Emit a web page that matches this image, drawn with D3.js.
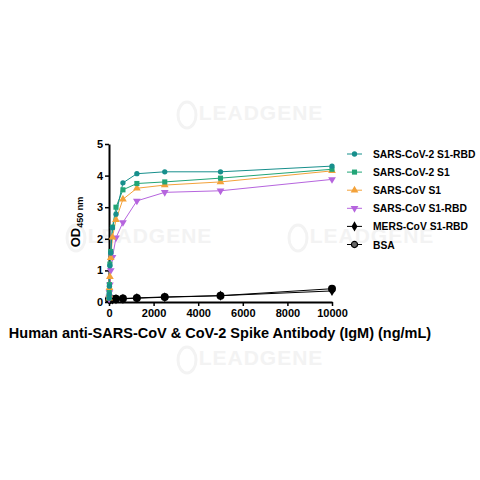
<!DOCTYPE html>
<html>
<head>
<meta charset="utf-8">
<script src="https://cdn.jsdelivr.net/npm/d3@7"></script>
<style>
    body { margin: 0; background: #fff; }
    text { font-family: "Liberation Sans", Arial, sans-serif; font-weight: bold; }
</style>
</head>
<body>
<svg id="chart" width="480" height="480"></svg>
<script>
// Antibody concentrations (ng/mL), two-fold dilutions
const concentrations = [10000, 5000, 2500, 1250, 625, 312.5, 156.25, 78.13, 39.06, 19.53, 9.77, 4.88];

// OD450 readings per antigen
const sars2Rbd = [4.30, 4.12, 4.12, 4.06, 3.77, 2.78, 2.35, 1.55, 1.15, 0.50, 0.25, 0.12];
const sars2S1 = [4.20, 3.92, 3.80, 3.75, 3.55, 3.00, 2.37, 1.60, 1.20, 0.55, 0.30, 0.14];
const sarsS1 = [4.15, 3.80, 3.70, 3.60, 3.25, 2.60, 2.05, 1.40, 0.80, 0.45, 0.22, 0.12];
const sarsRbd = [3.88, 3.52, 3.47, 3.20, 2.52, 2.03, 1.42, 1.00, 0.55, 0.30, 0.16, 0.10];
const mersRbd = [0.35, 0.20, 0.15, 0.12, 0.10, 0.09, 0.08, 0.08, 0.08, 0.08, 0.08, 0.08];
const bsa = [0.42, 0.20, 0.16, 0.13, 0.11, 0.10, 0.09, 0.09, 0.09, 0.09, 0.09, 0.09];

const seriesNames = ["SARS-CoV-2 S1-RBD", "SARS-CoV-2 S1", "SARS-CoV S1", "SARS-CoV S1-RBD", "MERS-CoV S1-RBD", "BSA"];
const xTicks = [0, 2000, 4000, 6000, 8000, 10000];
const yTicks = [0, 1, 2, 3, 4, 5];

const series = [
    { name: seriesNames[0], values: sars2Rbd, color: "#178f8c", symbol: d3.symbolCircle, size: 22, fill: "#178f8c" },
    { name: seriesNames[1], values: sars2S1, color: "#22a577", symbol: d3.symbolSquare, size: 26, fill: "#22a577" },
    { name: seriesNames[2], values: sarsS1, color: "#f3a23a", symbol: d3.symbolTriangle, size: 26, fill: "#f3a23a" },
    { name: seriesNames[3], values: sarsRbd, color: "#b665de", symbol: d3.symbolTriangle, size: 26, fill: "#b665de", flip: true },
    { name: seriesNames[4], values: mersRbd, color: "#000", symbol: d3.symbolDiamond, size: 30, fill: "#000" },
    { name: seriesNames[5], values: bsa, color: "#000", symbol: d3.symbolCircle, size: 50, fill: "#000" }
];

const svg = d3.select("#chart");

// Faint watermarks behind the plot (only the ones fully in frame)
const marks = [[261, 113], [150, 236], [372, 236], [261, 358]];
const wm = svg.append("g").attr("class", "watermark");
marks.forEach(([cx, cy]) => {
    wm.append("text")
        .attr("x", cx)
        .attr("y", cy + 7)
        .attr("text-anchor", "middle")
        .attr("font-size", 21)
        .attr("letter-spacing", 1)
        .attr("fill", "#f3f3f3")
        .text("LEADGENE");
    wm.append("ellipse")
        .attr("cx", cx - 74)
        .attr("cy", cy + 2)
        .attr("rx", 9)
        .attr("ry", 13)
        .attr("fill", "none")
        .attr("stroke", "#f3f3f3")
        .attr("stroke-width", 3);
});

const margin = { top: 144, left: 109 };
const innerWidth = 223;
const innerHeight = 158;

const xScale = d3.scaleLinear().domain([0, 10000]).range([0, innerWidth]);
const yScale = d3.scaleLinear().domain([0, 5]).range([innerHeight, 0]);

const innerChart = svg.append("g")
    .attr("transform", `translate(${margin.left},${margin.top})`);

// Axes
const bottomAxis = d3.axisBottom(xScale)
    .tickValues(xTicks)
    .tickFormat(d3.format("d"))
    .tickSize(4).tickSizeOuter(0).tickPadding(3);
const xAxisG = innerChart.append("g")
    .attr("transform", `translate(0, ${innerHeight})`)
    .call(bottomAxis);

const leftAxis = d3.axisLeft(yScale)
    .tickValues(yTicks)
    .tickFormat(d3.format("d"))
    .tickSize(4).tickSizeOuter(0).tickPadding(2);
const yAxisG = innerChart.append("g").call(leftAxis);

[xAxisG, yAxisG].forEach(g => {
    g.select(".domain").attr("stroke", "#000").attr("stroke-width", 2);
    g.selectAll(".tick line").attr("stroke", "#000").attr("stroke-width", 1.5);
    g.selectAll(".tick text")
        .attr("font-family", "Liberation Sans, Arial, sans-serif")
        .attr("font-weight", "bold")
        .attr("font-size", 11)
        .attr("fill", "#000");
});

// Lines and markers
const line = d3.line()
    .x((d, i) => xScale(concentrations[i]))
    .y(d => yScale(d));

series.slice().reverse().forEach(s => {
    innerChart.append("path")
        .datum(s.values)
        .attr("fill", "none")
        .attr("stroke", s.color)
        .attr("stroke-width", 1)
        .attr("d", line);
});

series.slice().reverse().forEach(s => {
    innerChart.selectAll(null)
        .data(s.values)
        .join("path")
        .attr("d", d3.symbol().type(s.symbol).size(s.size))
        .attr("transform", (d, i) => `translate(${xScale(concentrations[i])},${yScale(d)})${s.flip ? " rotate(180)" : ""}`)
        .attr("fill", s.fill);
});

// Axis titles
svg.append("text")
    .attr("x", 220)
    .attr("y", 338)
    .attr("text-anchor", "middle")
    .attr("font-size", 14.5)
    .attr("fill", "#000")
    .text("Human anti-SARS-CoV & CoV-2 Spike Antibody (IgM) (ng/mL)");

const yTitle = svg.append("text")
    .attr("transform", "translate(80, 222) rotate(-90)")
    .attr("text-anchor", "middle")
    .attr("font-size", 13)
    .attr("font-weight", "normal")
    .attr("fill", "#000");
yTitle.append("tspan").text("OD");
yTitle.append("tspan").attr("font-size", 9).attr("dy", 3).text("450 nm");

// Legend
const legend = svg.append("g").attr("transform", "translate(347, 154)");
series.forEach((s, i) => {
    const row = legend.append("g").attr("transform", `translate(0, ${i * 18.1})`);
    row.append("line")
        .attr("x1", 0).attr("x2", 15)
        .attr("stroke", s.color)
        .attr("stroke-width", 1);
    row.append("path")
        .attr("d", d3.symbol().type(s.symbol).size(s.name === "BSA" ? 30 : s.size))
        .attr("transform", `translate(7.5,0)${s.flip ? " rotate(180)" : ""}`)
        .attr("fill", s.name === "BSA" ? "#666" : s.fill)
        .attr("stroke", s.name === "BSA" ? "#000" : "none")
        .attr("stroke-width", 1.2);
    row.append("text")
        .attr("x", 26)
        .attr("y", 4)
        .attr("font-size", 10.3)
        .attr("fill", "#000")
        .text(s.name);
});
</script>
</body>
</html>
